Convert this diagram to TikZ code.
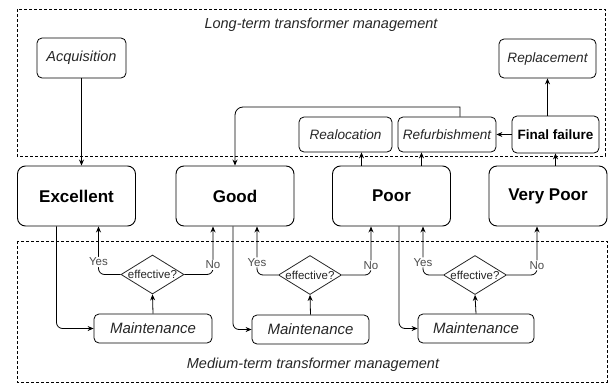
\documentclass[tikz,border=0pt]{standalone}
\usepackage{fontspec}
\setmainfont{Liberation Sans}
\usetikzlibrary{arrows.meta,shapes.geometric}

\begin{document}
\begin{tikzpicture}
    [x=1pt,y=-1pt,
     state/.style={shape=rectangle,draw=black,rounded corners=8pt,line width=0.9pt,minimum width=118pt,minimum height=60pt,font=\fontsize{17}{20}\selectfont\bfseries},
     act/.style={shape=rectangle,draw=black,rounded corners=5pt,line width=0.8pt,minimum height=35pt,font=\fontsize{13.6}{16}\selectfont\itshape,text=black!85},
     test/.style={shape=diamond,draw=black!85,line width=0.8pt,minimum width=63pt,minimum height=39pt,inner sep=0pt},
     post/.style={->,>={Stealth[length=6pt,width=5pt]},line width=0.8pt},
     answer/.style={fill=white,inner sep=1pt,text=black!70,font=\fontsize{11.5}{13}\selectfont},
     zone/.style={draw=black,dash pattern=on 3pt off 2pt,line width=0.7pt}]

    \useasboundingbox (0,0) rectangle (608,383);

    % the two management levels
    \draw [zone] (17,9) rectangle (605,156);
    \draw [zone] (17,241) rectangle (607,382);
    \node [font=\fontsize{14.5}{17}\selectfont\itshape,text=black!85] (longterm) at (321,25) {Long-term transformer management};
    \node [font=\fontsize{14.5}{17}\selectfont\itshape,text=black!85] (midterm) at (313,365) {Medium-term transformer management};

    % condition states
    \node [state] (exc) at (76.5,196) {Excellent};
    \node [state] (good) at (235,196) {Good};
    \node [state] (poor) at (391.5,196) {Poor};
    \node [state] (vpoor) at (548,196) {Very Poor};

    % long-term actions
    \node [act,minimum width=89pt,minimum height=40pt,font=\fontsize{14.5}{17}\selectfont\itshape] (acq) at (81.5,58) {Acquisition};
    \node [act,minimum width=97pt,minimum height=39pt] (repl) at (547.5,58.5) {Replacement};
    \node [act,minimum width=93pt] (realloc) at (345.5,134.5) {Realocation};
    \node [act,minimum width=98pt] (refurb) at (447,134.5) {Refurbishment};
    \node [act,minimum width=87pt,minimum height=37pt,font=\fontsize{13.5}{16}\selectfont\bfseries,text=black] (ff) at (555.5,134.5) {Final failure}
      edge [post] (refurb);

    \draw [post] (acq.south) -- (acq.south |- exc.north);
    \draw [post] ([xshift=-30pt]poor.north) -- ([xshift=-30pt]poor.north |- realloc.south);
    \draw [post] ([xshift=30pt]poor.north) -- ([xshift=30pt]poor.north |- refurb.south);
    \draw [post] (ff.south |- vpoor.north) -- (ff.south);
    \draw [post] (ff.north -| repl.south) -- (repl.south);
    \coordinate (bend) at ([xshift=13pt]refurb.north |- 0,107);
    \draw [post] ([xshift=13pt]refurb.north) -- (bend) [rounded corners=8pt] -| (good.north);

    % medium-term maintenance
    \node [act,minimum width=118pt,minimum height=29pt,font=\fontsize{15}{18}\selectfont\itshape] (mnt1) at (153,328.5) {Maintenance};
    \node [act,minimum width=117pt,minimum height=29pt,font=\fontsize{15}{18}\selectfont\itshape] (mnt2) at (310.5,329.5) {Maintenance};
    \node [act,minimum width=116pt,minimum height=29pt,font=\fontsize{15}{18}\selectfont\itshape] (mnt3) at (476,328.5) {Maintenance};
    \node [test,label={[font=\fontsize{11.5}{13}\selectfont,text=black!85]center:effective?}] (dia1) at (152.5,274.5) {};
    \node [test,label={[font=\fontsize{11.5}{13}\selectfont,text=black!85]center:effective?}] (dia2) at (310,275) {};
    \node [test,label={[font=\fontsize{11.5}{13}\selectfont,text=black!85]center:effective?}] (dia3) at (475,275) {};

    \draw [post,rounded corners=6pt] ([xshift=-20pt]exc.south) |- (mnt1.west);
    \draw [post] (mnt1.north) -- (dia1.south);
    \draw [post,rounded corners=6pt] (dia1.west) -| node [answer,pos=0.63] {Yes} ([xshift=22pt]exc.south);
    \draw [post,rounded corners=6pt] (dia1.east) -| node [answer,pos=0.6] {No} ([xshift=-22pt]good.south);

    \draw [post,rounded corners=6pt] ([xshift=-2pt]good.south) |- (mnt2.west);
    \draw [post] (mnt2.north) -- (dia2.south);
    \draw [post,rounded corners=6pt] (dia2.west) -| node [answer,pos=0.63] {Yes} ([xshift=22pt]good.south);
    \draw [post,rounded corners=6pt] (dia2.east) -| node [answer,pos=0.6] {No} ([xshift=-20.5pt]poor.south);

    \draw [post,rounded corners=6pt] ([xshift=7.5pt]poor.south) |- (mnt3.west);
    \draw [post] (mnt3.north) -- (dia3.south);
    \draw [post,rounded corners=6pt] (dia3.west) -| node [answer,pos=0.63] {Yes} ([xshift=31.5pt]poor.south);
    \draw [post,rounded corners=6pt] (dia3.east) -| node [answer,pos=0.6] {No} ([xshift=-11pt]vpoor.south);
  \end{tikzpicture}
\end{document}
